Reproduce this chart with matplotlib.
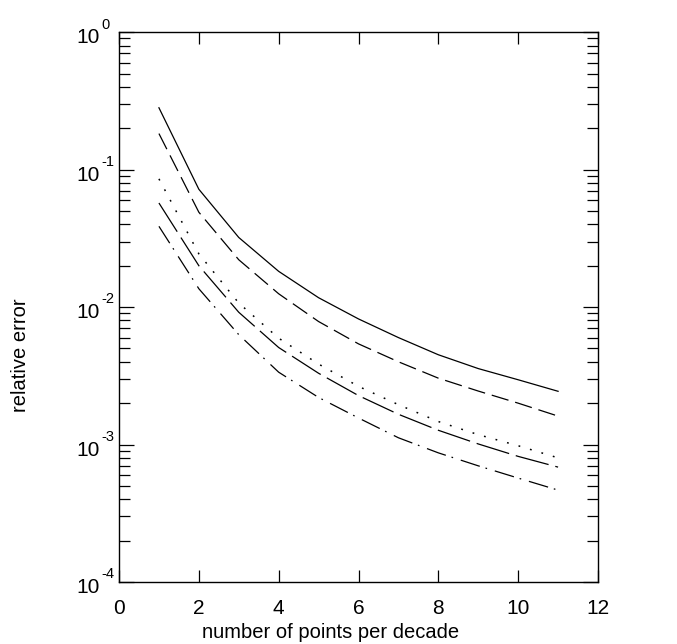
import math
import matplotlib
matplotlib.use("Agg")
import matplotlib.pyplot as plt
from matplotlib.ticker import LogLocator, FixedLocator, FuncFormatter, NullFormatter
from matplotlib.transforms import ScaledTranslation

plt.rcParams['font.family'] = ['Liberation Sans', 'DejaVu Sans']
plt.rcParams['lines.scale_dashes'] = False

# Data
points = [1, 2, 3, 4, 5, 6, 7, 8, 9, 10, 11]
err_solid = [0.282, 0.072, 0.0321, 0.0182, 0.0117, 0.0082, 0.0060, 0.0045, 0.00357, 0.00296, 0.00244]
err_dashed = [0.183, 0.049, 0.0221, 0.0125, 0.00785, 0.0054, 0.0040, 0.00304, 0.00245, 0.0020, 0.00161]
err_dotted = [0.0857, 0.0244, 0.0107, 0.00594, 0.00385, 0.00265, 0.00195, 0.00147, 0.00118, 0.00098, 0.0008]
err_longdash = [0.0572, 0.020, 0.00917, 0.00508, 0.0033, 0.00227, 0.00166, 0.00127, 0.00101, 0.00082, 0.000685]
err_dashdot = [0.0387, 0.0136, 0.0063, 0.00336, 0.0022, 0.00156, 0.00112, 0.00087, 0.0007, 0.00057, 0.000466]

xticks = [0, 2, 4, 6, 8, 10, 12]
ydecades = [1e-4, 1e-3, 1e-2, 1e-1, 1e0]

fig = plt.figure(figsize=(6.77, 6.44), dpi=100)
ax = fig.add_axes([0.1758, 0.0963, 0.7075, 0.8537])

lw = 0.9
ax.plot(points, err_solid, color='black', lw=lw, linestyle='-')
ax.plot(points, err_dashed, color='black', lw=lw, linestyle=(0, (12.6, 5.0)))
ax.plot(points, err_dotted, color='black', lw=1.1, linestyle=(0, (1.3, 7.3)))
ax.plot(points, err_longdash, color='black', lw=lw, linestyle=(0, (24.5, 5.0)))
ax.plot(points, err_dashdot, color='black', lw=lw, linestyle=(0, (14.4, 4.3, 1.2, 5.8)))

ax.set_yscale('log')
ax.set_xlim(0, 12)
ax.set_ylim(1e-4, 1)
ax.xaxis.set_major_locator(FixedLocator(xticks))
ax.set_xticklabels([str(t) for t in xticks])
ax.yaxis.set_major_locator(FixedLocator(ydecades))
ax.yaxis.set_minor_locator(LogLocator(base=10, subs=range(2, 10), numticks=20))
ax.yaxis.set_minor_formatter(NullFormatter())
ax.yaxis.set_major_formatter(FuncFormatter(lambda v, p: '10'))

for s in ax.spines.values():
    s.set_linewidth(1.0)

ax.tick_params(axis='both', which='both', direction='in', top=True, right=True, width=0.9, labelsize=15)
ax.tick_params(axis='x', which='major', length=8.5, pad=12)
ax.tick_params(axis='y', which='major', length=10.5, pad=14)
ax.tick_params(axis='y', which='minor', length=8)

# shift the "10" labels slightly downward
shift = ScaledTranslation(0, -2.5 / 72, fig.dpi_scale_trans)
for tick in ax.yaxis.get_major_ticks():
    tick.label1.set_transform(tick.label1.get_transform() + shift)

# exponents of the decade labels
for v in ydecades:
    ax.annotate('%d' % round(math.log10(v)), xy=(0, v), xycoords=('axes fraction', 'data'),
                xytext=(-13, 5.5), textcoords='offset points', ha='left', va='center',
                fontsize=10.5, annotation_clip=False)

fig.text(331 / 677, 1 - 632 / 644, 'number of points per decade', fontsize=14.5, ha='center', va='center')
fig.text(21 / 677, 1 - 355 / 644, 'relative error', fontsize=14.5, ha='center', va='center', rotation=90)

fig.savefig('out.png', dpi=100)
